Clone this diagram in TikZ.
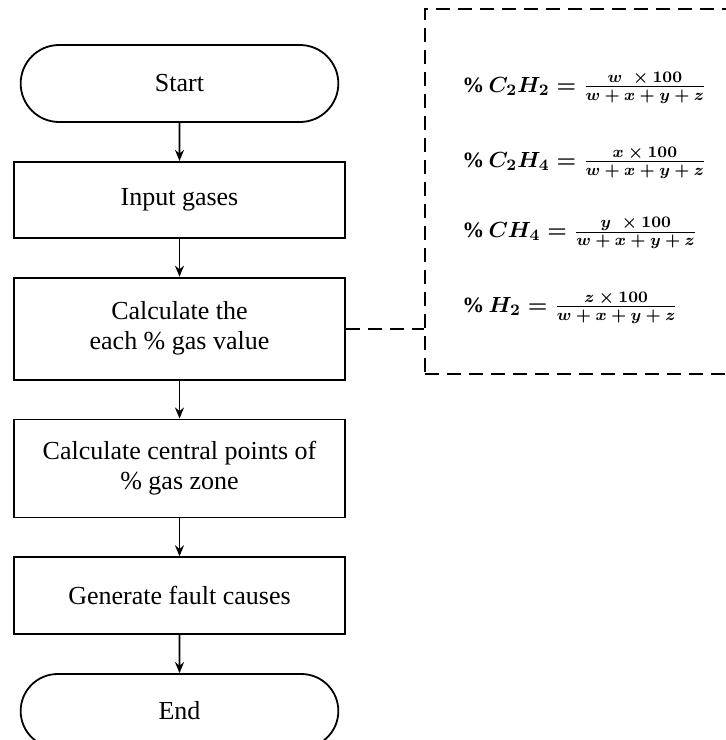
\documentclass[tikz,border=0pt]{standalone}
\usepackage{fontspec}
\setmainfont{Liberation Serif}
\usetikzlibrary{arrows.meta,shapes.misc,positioning}
\newcommand{\gasfrac}[2]{\frac{\mbox{\fontsize{8.5}{10}\selectfont$#1$}}{\mbox{\fontsize{8.5}{10}\selectfont$#2$}}}
\tikzset{
  term_box/.style={draw,rounded rectangle,line width=0.9pt,
    minimum width=165.5pt,minimum height=38.5pt,font=\fontsize{13}{15}\selectfont,align=center},
  step_box/.style={draw,rectangle,line width=0.9pt,
    minimum width=165.5pt,minimum height=38pt,font=\fontsize{13}{15}\selectfont,align=center},
  dash_box/.style={draw,dash pattern=on 7pt off 4pt,line width=0.9pt,
    minimum width=168pt,minimum height=182.5pt,anchor=north west},
  gas_eq/.style={anchor=west,inner sep=0pt,font=\fontsize{11}{13}\selectfont\mathversion{bold}},
  arr/.style={-{Stealth[length=5.5pt,width=4.5pt]},line width=0.8pt},
}
\begin{document}
\begin{tikzpicture}[node distance=19pt]
  \useasboundingbox (0,0) rectangle (362.5pt,-370pt);

  \node[term_box] (start) at (89.75pt,-41.75pt) {Start};
  \node[step_box, below=of start] (input) {Input gases};
  \node[step_box, minimum height=51pt, below=of input] (calc) {Calculate the\\ each \% gas value};
  \node[step_box, minimum height=49pt, below=of calc] (zone) {Calculate central points of\\ \% gas zone};
  \node[step_box, minimum height=38.5pt, below=of zone] (fault) {Generate fault causes};
  \node[term_box, minimum height=37pt, below=of fault] (stop) {End};

  % formulas box
  \node[dash_box] (formulas) at (212pt,-4pt) {};
  \node[gas_eq] (f1) at (231pt,-44pt) {$\%\,C_2H_2=\gasfrac{w\,\,\times 100}{w+x+y+z}$};
  \node[gas_eq] (f2) at (231pt,-81.5pt) {$\%\,C_2H_4=\gasfrac{x\times 100}{w+x+y+z}$};
  \node[gas_eq] (f3) at (231pt,-116.5pt) {$\%\,CH_4=\gasfrac{y\,\,\times 100}{w+x+y+z}$};
  \node[gas_eq] (f4) at (231pt,-154pt) {$\%\,H_2=\gasfrac{z\times 100}{w+x+y+z}$};

  \draw[arr] (start)--(input); \draw[arr] (input)--(calc);
  \draw[arr] (calc)--(zone); \draw[arr] (zone)--(fault);
  \draw[arr] (fault)--(stop);
  \draw[dash pattern=on 7pt off 4pt,line width=0.9pt] (calc.east) -- (calc.east -| formulas.west);
\end{tikzpicture}
\end{document}
